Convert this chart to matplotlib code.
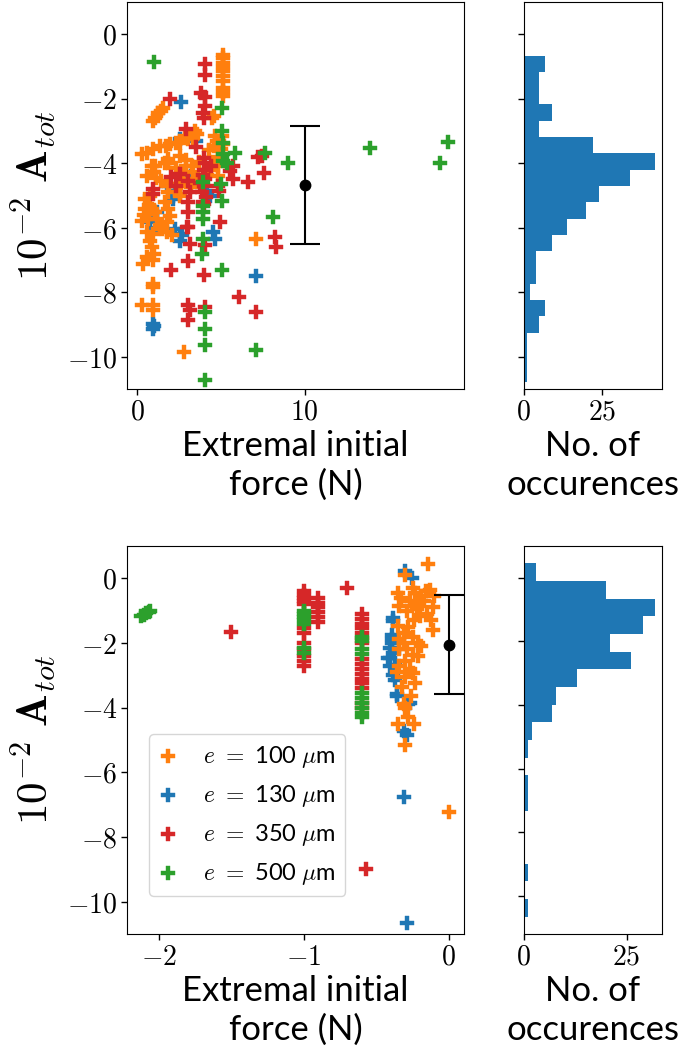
import matplotlib
matplotlib.use("Agg")
import matplotlib.pyplot as plt
import numpy as np
from matplotlib.ticker import FuncFormatter

plt.rcParams['font.family'] = ['Lato', 'DejaVu Sans']
plt.rcParams['mathtext.fontset'] = 'cm'

# thickness labels / colours
thick_labels = [r'$e\ =\ $100 $\mu$m', r'$e\ =\ $130 $\mu$m',
                r'$e\ =\ $350 $\mu$m', r'$e\ =\ $500 $\mu$m']
thick_colors = ['tab:orange', 'tab:blue', 'tab:red', 'tab:green']

# ---- pulling (positive force) : (force N, 10^-2 A_tot)
top_100 = [(5.15, -0.63), (5.15, -0.75), (5.15, -0.89), (5.12, -1.02), (5.15, -1.15),
           (5.13, -1.30), (5.15, -1.46), (5.15, -1.66), (5.12, -1.80), (5.15, -1.92),
           (1.57, -2.28), (1.40, -2.38), (1.27, -2.43), (1.07, -2.59), (0.97, -2.69),
           (4.60, -2.54), (4.45, -2.60),
           (0.28, -3.72), (0.58, -3.67), (0.98, -3.56), (1.37, -3.46), (1.70, -3.45),
           (1.97, -3.41), (2.30, -3.38), (2.56, -3.36), (3.06, -3.26), (3.36, -3.21),
           (3.56, -3.10), (2.86, -3.15), (3.46, -3.00),
           (1.06, -4.08), (1.00, -4.28), (1.85, -3.98), (2.55, -3.77), (2.90, -3.90),
           (3.30, -4.10), (2.75, -4.30), (2.30, -4.15), (3.70, -3.95), (4.30, -3.60),
           (4.60, -3.45), (4.90, -3.30), (5.00, -3.55), (4.80, -3.80), (4.60, -4.05),
           (4.20, -4.35), (3.60, -4.50), (3.20, -4.75), (2.60, -4.60), (1.90, -4.70),
           (1.40, -4.55), (1.10, -4.45), (5.05, -3.15), (5.15, -3.40), (4.65, -3.15),
           (4.75, -3.31), (4.85, -3.46), (4.80, -4.08), (4.80, -4.39),
           (0.88, -4.08), (0.98, -4.28), (0.58, -4.39), (1.87, -3.87), (1.67, -3.98),
           (2.37, -4.34), (2.56, -4.70), (2.94, -4.08), (3.34, -4.28), (2.74, -4.49),
           (2.55, -5.00), (1.85, -4.65), (1.85, -4.90),
           (0.78, -5.01), (0.48, -5.42), (0.88, -5.42), (0.28, -5.78), (0.68, -5.73),
           (1.17, -5.73), (0.58, -6.14), (0.98, -6.19), (0.88, -6.60), (0.38, -7.12),
           (0.98, -7.01), (0.98, -7.74), (0.98, -7.84), (0.28, -8.41), (0.98, -8.41),
           (0.98, -8.56), (1.67, -5.21), (1.87, -5.42), (1.97, -5.63), (1.77, -5.83),
           (1.47, -6.04), (2.07, -6.24), (1.77, -6.14), (1.37, -5.93), (2.56, -4.96),
           (0.50, -5.10), (0.70, -5.30), (0.40, -5.60), (1.05, -5.50), (0.75, -6.40),
           (1.00, -6.80), (0.60, -6.90), (7.08, -6.35), (2.77, -9.85)]
top_130 = [(2.62, -2.10), (0.97, -8.97), (0.97, -9.13), (1.00, -9.05), (7.12, -7.50),
           (4.63, -6.35), (2.55, -6.40), (2.25, -6.04), (2.17, -5.01), (2.56, -6.19),
           (2.66, -6.24), (4.50, -6.14), (0.68, -5.78), (1.17, -5.52), (4.34, -5.00),
           (2.55, -3.26), (2.15, -5.11), (0.76, -5.83), (2.25, -4.90), (1.80, -4.70),
           (3.50, -3.30), (3.20, -4.40), (4.20, -4.90), (0.90, -5.60), (1.10, -6.00)]
top_350 = [(4.08, -0.91), (4.08, -1.25), (3.80, -1.81), (4.06, -1.94), (4.06, -2.23),
           (3.95, -2.43), (4.00, -2.59), (1.97, -2.00), (2.94, -2.93),
           (5.75, -4.49), (5.70, -4.08), (5.53, -4.24), (6.62, -4.57), (7.60, -4.31),
           (7.24, -3.82), (7.44, -3.77),
           (4.00, -3.85), (4.05, -4.00), (4.00, -4.20), (3.95, -4.35), (4.05, -4.50),
           (4.00, -4.70), (3.90, -4.90), (4.10, -5.05), (4.00, -5.25), (3.75, -4.60),
           (3.04, -4.54), (3.14, -4.90), (3.04, -5.21), (3.04, -5.52), (2.55, -4.34),
           (2.35, -4.69), (2.05, -4.44), (0.97, -4.80), (0.97, -4.96),
           (3.04, -5.98), (3.14, -6.50), (4.04, -6.55), (4.97, -5.81), (4.90, -4.85),
           (4.80, -4.70), (2.05, -7.32), (3.04, -7.02), (3.98, -7.48),
           (3.04, -8.40), (3.14, -8.56), (3.04, -8.87), (4.04, -8.46), (6.06, -8.15),
           (7.12, -8.61), (8.21, -6.29), (8.27, -6.60), (2.96, -5.99), (3.95, -5.21),
           (3.50, -3.50), (4.40, -4.10)]
top_500 = [(1.02, -0.87), (5.05, -2.28), (5.09, -3.00), (5.10, -3.36), (5.85, -3.69),
           (7.63, -3.67), (9.03, -3.98), (5.15, -3.72), (5.35, -3.98), (5.15, -3.93),
           (3.96, -4.59), (5.03, -4.65), (5.05, -5.16), (3.96, -5.32), (3.96, -5.52),
           (3.96, -5.73), (3.96, -6.35), (3.86, -6.81), (5.05, -7.32), (8.09, -5.68),
           (4.04, -8.61), (4.05, -9.13), (4.05, -9.64), (4.05, -10.72), (7.10, -9.80),
           (13.88, -3.54), (18.09, -3.98), (18.55, -3.34)]

# ---- pushing (negative force)
bot_100 = [(-0.145, 0.45), (-0.30, 0.11), (-0.35, -0.45), (-0.25, -0.30), (-0.16, -0.40),
           (-0.13, -0.35), (-0.19, -0.56), (-0.23, -0.45), (-0.10, -0.55), (-0.27, -0.71),
           (-0.21, -0.81), (-0.34, -0.86), (-0.29, -1.02), (-0.20, -1.17), (-0.11, -0.90),
           (-0.15, -1.10), (-0.24, -1.30), (-0.11, -1.59), (-0.35, -1.48), (-0.31, -1.69),
           (-0.25, -1.80), (-0.21, -1.99), (-0.34, -1.89), (-0.31, -1.99), (-0.34, -2.20),
           (-0.25, -2.36), (-0.21, -2.41), (-0.30, -2.55), (-0.34, -2.72), (-0.27, -2.80),
           (-0.25, -2.92), (-0.30, -3.05), (-0.23, -3.23), (-0.32, -3.35), (-0.26, -3.64),
           (-0.31, -3.90), (-0.30, -4.00), (-0.35, -4.52), (-0.24, -4.52), (-0.30, -5.14),
           (-0.17, -0.70), (-0.12, -1.30), (-0.28, -1.50), (-0.19, -2.10), (-0.29, -2.20),
           (0.00, -7.23), (-0.33, -0.60), (-0.22, -0.95), (-0.36, -2.90), (-0.28, -4.30)]
bot_130 = [(-0.30, 0.22), (-0.256, 0.00), (-0.383, -1.22), (-0.383, -1.33), (-0.394, -1.74),
           (-0.394, -1.89), (-0.405, -2.15), (-0.405, -2.46), (-0.417, -2.46), (-0.37, -2.67),
           (-0.406, -2.72), (-0.383, -2.98), (-0.37, -3.13), (-0.36, -3.59), (-0.36, -3.64),
           (-0.267, -3.85), (-0.28, -3.90), (-0.29, -4.83), (-0.31, -4.73), (-0.39, -2.00),
           (-0.38, -2.30), (-0.31, -6.76), (-0.29, -10.65)]
bot_350 = [(-1.50, -1.67), (-0.70, -0.31), (-0.57, -9.00),
           (-1.0, -0.40), (-1.0, -0.50), (-1.0, -0.60), (-1.0, -0.70), (-1.0, -0.80),
           (-1.0, -1.55), (-1.0, -1.70), (-1.0, -2.00), (-1.0, -2.20), (-1.0, -2.40),
           (-1.0, -2.55), (-1.0, -2.70),
           (-0.90, -0.60), (-0.90, -0.75), (-0.90, -0.90), (-0.90, -1.05), (-0.90, -1.20),
           (-0.90, -1.35),
           (-0.60, -1.10), (-0.60, -1.25), (-0.60, -1.40), (-0.60, -1.55), (-0.60, -1.70),
           (-0.60, -1.85), (-0.60, -2.00), (-0.60, -2.50), (-0.60, -2.65), (-0.60, -2.80),
           (-0.60, -2.95), (-0.60, -3.10), (-0.60, -3.25), (-0.60, -3.40), (-0.60, -3.85),
           (-0.60, -4.00)]
bot_500 = [(-2.12, -1.15), (-2.10, -1.12), (-2.09, -1.08), (-2.07, -1.03), (-2.06, -1.00),
           (-1.0, -1.00), (-1.0, -1.10), (-1.0, -1.20), (-1.0, -1.30), (-1.0, -1.40),
           (-1.0, -2.15), (-1.0, -2.30),
           (-0.6, -1.80), (-0.6, -1.95), (-0.6, -2.20), (-0.6, -2.35), (-0.6, -3.55),
           (-0.6, -3.70), (-0.6, -3.85), (-0.6, -4.00), (-0.6, -4.15), (-0.6, -4.30)]

# mean +/- std shown beside each cloud: (force, mean, lower, upper)
top_mean = (10.0, -4.67, -6.50, -2.85)
bot_mean = (0.0, -2.07, -3.59, -0.53)

# histograms of A_tot (counts from lowest bin up), 20 bins each
top_hist_range = (-10.77, -0.66)
top_counts = [1, 1, 1, 5, 7, 2, 4, 4, 9, 14, 20, 24, 34, 42, 22, 5, 9, 5, 5, 7]
bot_hist_range = (-10.65, 0.45)
bot_counts = [1, 0, 1, 0, 0, 0, 1, 1, 0, 1, 2, 7, 8, 13, 26, 21, 29, 32, 20, 3]

bold_fmt = FuncFormatter(lambda v, p: r'$\mathbf{%g}$' % v)
label_fs = 25
tick_fs = 20

W, H = 695, 1057
fig = plt.figure(figsize=(W / 100, H / 100), dpi=100)


def px_axes(l, t, r, b):
    return fig.add_axes([l / W, 1 - b / H, (r - l) / W, (b - t) / H])


def draw_row(ax, axh, series, mean, hrange, counts, xlim, xticks, ylim_h):
    order = [1, 0, 2, 3]  # 130 first so the 100 points sit on top
    handles = {}
    for i in order:
        pts = np.array(series[i])
        handles[i] = ax.scatter(pts[:, 0], pts[:, 1], s=115, marker='P',
                                color=thick_colors[i], linewidths=0.3,
                                label=thick_labels[i], zorder=2)
    x0, m, lo, hi = mean
    ax.errorbar([x0], [m], yerr=[[m - lo], [hi - m]], fmt='o', color='black',
                ms=7.5, elinewidth=1.5, capsize=11, capthick=1.5, zorder=3,
                clip_on=False)
    ax.set_xlim(*xlim)
    ax.set_ylim(-11, 1)
    ax.set_xticks(xticks)
    ax.set_yticks(np.arange(-10, 1, 2))
    ax.xaxis.set_major_formatter(bold_fmt)
    ax.yaxis.set_major_formatter(bold_fmt)
    ax.set_xlabel('Extremal initial\nforce (N)', fontsize=label_fs,
                  linespacing=1.25, labelpad=4)
    ax.set_ylabel(r'$\mathbf{10^{-2}\ A}_{tot}$', fontsize=31, labelpad=6)

    edges = np.linspace(hrange[0], hrange[1], len(counts) + 1)
    centers = (edges[:-1] + edges[1:]) / 2
    axh.hist(centers, bins=edges, weights=counts, orientation='horizontal',
             color='#1f77b4')
    axh.set_ylim(*ylim_h)
    axh.set_yticks(np.arange(-10, 1, 2))
    axh.set_yticklabels([])
    axh.set_xticks([0, 25])
    axh.xaxis.set_major_formatter(bold_fmt)
    axh.set_xlabel('No. of\noccurences', fontsize=label_fs,
                   linespacing=1.25, labelpad=4)

    for a in (ax, axh):
        a.tick_params(labelsize=tick_fs, length=4, width=1, pad=3)
    return [handles[i] for i in range(4)]


ax1 = px_axes(127, 2, 464, 389)
ax1h = px_axes(523.5, 2, 662, 389)
ax2 = px_axes(127, 546, 464, 934)
ax2h = px_axes(523.5, 546, 662, 934)

draw_row(ax1, ax1h, [top_100, top_130, top_350, top_500], top_mean,
         top_hist_range, top_counts, (-0.6, 19.5), [0, 10], (-11, 1))
hs = draw_row(ax2, ax2h, [bot_100, bot_130, bot_350, bot_500], bot_mean,
              bot_hist_range, bot_counts, (-2.22, 0.105), [-2, -1, 0], (-11.2, 1.0))

ax2.legend(handles=hs, loc='lower left', bbox_to_anchor=(0.065, 0.098),
           borderaxespad=0, fontsize=17, handlelength=0.8, handletextpad=1.1,
           labelspacing=0.55, borderpad=0.4)

fig.savefig('out.png', dpi=100)
